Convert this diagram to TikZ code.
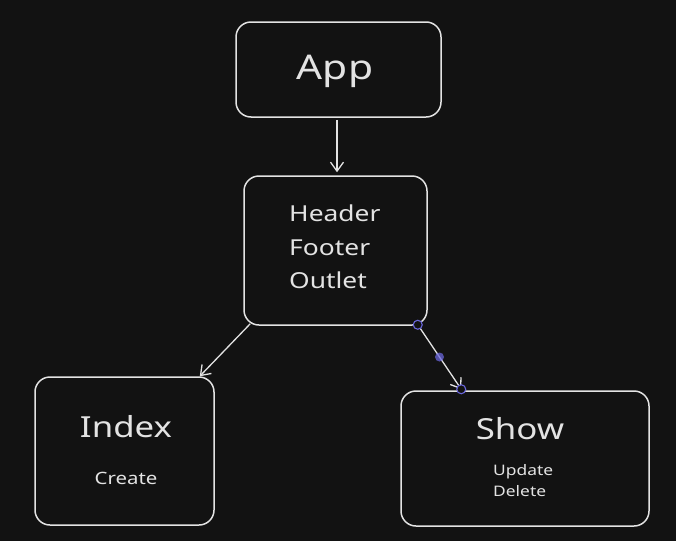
\documentclass[tikz,border=0pt]{standalone}
\usepackage{fontspec}
\setmainfont{Noto Sans}[FakeStretch=1.2]
\usetikzlibrary{arrows.meta,calc}
\definecolor{bg}{HTML}{121212}
\definecolor{ink}{HTML}{E3E3E3}
\definecolor{sel}{HTML}{6965DB}
\tikzset{
  box/.style={draw=ink,line width=1.5pt,rounded corners=15pt,fill=bg,inner sep=0pt},
  txt/.style={text=ink,inner sep=0pt,align=left},
  conn/.style={draw=ink,line width=1.3pt,-{Straight Barb[length=9pt,width=13pt,line width=1.3pt]}},
  handle/.style={draw=sel,line width=1.1pt,fill=bg,circle,minimum size=9pt,inner sep=0pt},
  middot/.style={fill=sel,fill opacity=0.75,circle,minimum size=9pt,inner sep=0pt}
}
\begin{document}
\begin{tikzpicture}[x=1pt,y=-1pt]
\fill[bg] (0,0) rectangle (676,541);
\useasboundingbox (0,0) rectangle (676,541);
\node[box,minimum width=205pt,minimum height=95pt] (app) at (338.5,69.5) {};
\node[box,minimum width=183pt,minimum height=149pt] (hdr) at (335.5,250.5) {};
\node[box,minimum width=179pt,minimum height=148pt] (idx) at (124.5,451) {};
\node[box,minimum width=248pt,minimum height=135pt] (shw) at (525,458.5) {};
\node[txt,font=\fontsize{34}{40}\selectfont] (apptxt) at (335,71) {App};
\node[txt,font=\fontsize{22}{33.5}\selectfont,anchor=north west] (hdrtxt) at (289,205) {Header\\Footer\\Outlet};
\node[txt,font=\fontsize{29}{34}\selectfont] (idxtxt) at (126,427) {Index};
\node[txt,font=\fontsize{17}{20}\selectfont] (idxsub) at (126,478) {Create};
\node[txt,font=\fontsize{29}{34}\selectfont] (shwtxt) at (520,429) {Show};
\node[txt,font=\fontsize{14.5}{21}\selectfont,anchor=north west] (shwsub) at (493,464) {Update\\Delete};
\draw[conn] ($(app.south)+(-1.5,2)$) -- ($(hdr.north)+(1.5,-3)$);
\draw[conn] ($(hdr.south west)+(7,-2)$) -- ($(idx.north east)+(-15,0)$);
\coordinate (hs1) at ($(hdr.south east)+(-10,-1)$);
\coordinate (hs2) at ($(shw.north west)+(61,-1)$);
\draw[conn] (hs1) -- (hs2);
\node[handle] (h1) at (hs1) {};
\node[handle] (h2) at (hs2) {};
\node[middot] (hm) at ($(hs1)!0.5!(hs2)$) {};
\end{tikzpicture}
\end{document}
